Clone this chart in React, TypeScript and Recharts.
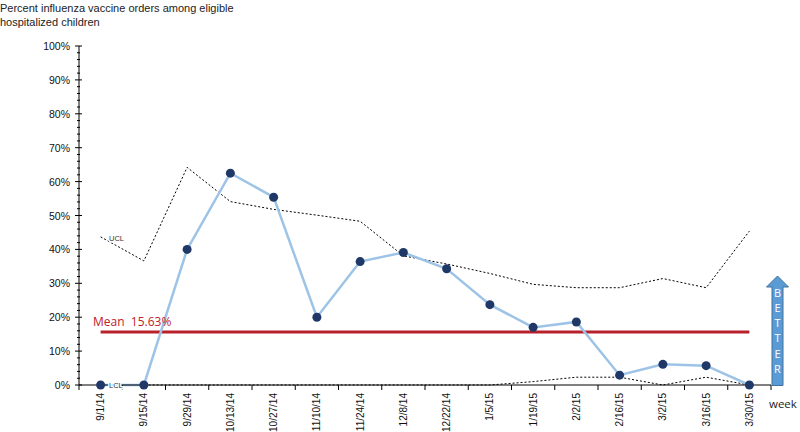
import { Line, LineChart, ReferenceLine, XAxis, YAxis } from "recharts";

const WEEKS = [
  "9/1/14", "9/15/14", "9/29/14", "10/13/14", "10/27/14", "11/10/14", "11/24/14", "12/8/14",
  "12/22/14", "1/5/15", "1/19/15", "2/2/15", "2/16/15", "3/2/15", "3/16/15", "3/30/15",
];
const RATE = [0, 0, 40, 62.5, 55.4, 20, 36.4, 39.1, 34.3, 23.7, 17.0, 18.6, 2.9, 6.1, 5.7, 0];
const UCL = [43.7, 36.6, 64.2, 54.1, 51.8, 50.1, 48.3, 38.1, 35.7, 32.9, 29.7, 28.7, 28.7, 31.4, 28.7, 45.4];
const LCL = [0, 0, 0, 0, 0, 0, 0, 0, 0, 0, 1.0, 2.3, 2.3, 0, 2.3, 0];
const MEAN = 15.63;
const Y_TICKS = [
  0, 2, 4, 6, 8, 10, 12, 14, 16, 18, 20, 22, 24, 26, 28, 30, 32, 34, 36, 38, 40, 42, 44, 46, 48, 50,
  52, 54, 56, 58, 60, 62, 64, 66, 68, 70, 72, 74, 76, 78, 80, 82, 84, 86, 88, 90, 92, 94, 96, 98, 100,
];
const BETTER = ["B", "E", "T", "T", "E", "R"];

const data = WEEKS.map((week, i) => ({ week, rate: RATE[i], ucl: UCL[i], lcl: LCL[i] }));

const AXIS_X = 79;
const AXIS_Y = 385;
const HALF_BAND = 21.625;
const ARIAL = "'Liberation Sans', Arial, sans-serif";

function YTick(props: any) {
  const { y, payload } = props;
  const v = payload.value;
  const major = v % 10 === 0;
  return (
    <g>
      <line x1={major ? 75 : 77} x2={major ? 82 : 80} y1={y} y2={y} stroke="#000" strokeWidth={1} />
      {major && (
        <text x={70} y={y} textAnchor="end" dominantBaseline="central" fontSize={10.5} fontFamily={ARIAL} fill="#111">
          {v}%
        </text>
      )}
    </g>
  );
}

function XTick(props: any) {
  const { x, payload, index } = props;
  return (
    <g>
      {index === 0 && (
        <line x1={x - HALF_BAND} x2={x - HALF_BAND} y1={AXIS_Y} y2={AXIS_Y + 5} stroke="#000" />
      )}
      <line x1={x + HALF_BAND} x2={x + HALF_BAND} y1={AXIS_Y} y2={AXIS_Y + 5} stroke="#000" />
      <text
        x={x}
        y={AXIS_Y + 8}
        transform={`rotate(-90 ${x} ${AXIS_Y + 8})`}
        textAnchor="end"
        dominantBaseline="central"
        fontSize={10}
        fontFamily={ARIAL}
        fill="#111"
      >
        {payload.value}
      </text>
    </g>
  );
}

export default function App() {
  return (
    <div style={{ position: "absolute", left: 0, top: 0, width: 800, height: 432, background: "#fff" }}>
      <LineChart width={800} height={432} data={data} margin={{ top: 46, right: 29, bottom: 0, left: 0 }}>
        <XAxis
          dataKey="week"
          interval={0}
          height={47}
          tickLine={false}
          axisLine={{ stroke: "#000" }}
          tick={<XTick />}
          padding={{ left: HALF_BAND, right: HALF_BAND }}
        />
        <YAxis
          width={AXIS_X}
          domain={[0, 100]}
          ticks={Y_TICKS}
          interval={0}
          tickLine={false}
          axisLine={{ stroke: "#000" }}
          tick={<YTick />}
        />
        <ReferenceLine
          segment={[
            { x: WEEKS[0], y: MEAN },
            { x: WEEKS[WEEKS.length - 1], y: MEAN },
          ]}
          stroke="#B8202A"
          strokeWidth={3}
        />
        <Line dataKey="ucl" stroke="#000" strokeWidth={1} strokeDasharray="2 2" dot={false} isAnimationActive={false} />
        <Line dataKey="lcl" stroke="#000" strokeWidth={1} strokeDasharray="2 2" dot={false} isAnimationActive={false} />
        <Line
          dataKey="rate"
          stroke="#9DC3E6"
          strokeWidth={2.5}
          dot={{ r: 4.5, fill: "#1F3868", stroke: "#1F3868", strokeWidth: 0 }}
          isAnimationActive={false}
        />
      </LineChart>
      <svg width={800} height={432} style={{ position: "absolute", left: 0, top: 0, pointerEvents: "none" }}>
        <text x={0} y={12} fontSize={11} fontFamily={ARIAL} fill="#222">
          Percent influenza vaccine orders among eligible
        </text>
        <text x={0} y={26} fontSize={11} fontFamily={ARIAL} fill="#222">
          hospitalized children
        </text>
        <text x={93} y={326} fontSize={12} fontFamily="'Open Sans', sans-serif" fill="#C0202A" style={{ whiteSpace: "pre" }}>
          Mean  15.63%
        </text>
        <text x={109} y={241} fontSize={7.5} fontFamily={ARIAL} fill="#333" stroke="#fff" strokeWidth={3} paintOrder="stroke">
          UCL
        </text>
        <text x={109} y={388} fontSize={7.5} fontFamily={ARIAL} fill="#333" stroke="#fff" strokeWidth={3} paintOrder="stroke">
          LCL
        </text>
        <text x={769} y={408} fontSize={11.5} fontFamily="'Open Sans', sans-serif" fill="#222">
          week
        </text>
        <path
          d="M772 385.5 L772 287 L766.5 287 L777.5 276 L788.5 287 L783 287 L783 385.5 Z"
          fill="#5B9BD5"
          stroke="#41719C"
          strokeWidth={1}
        />
        {BETTER.map((ch, i) => (
          <text
            key={i}
            x={777.5}
            y={292 + i * 15.3}
            textAnchor="middle"
            dominantBaseline="central"
            fontSize={11}
            fontFamily="'Open Sans', sans-serif"
            fill="#fff"
          >
            {ch}
          </text>
        ))}
      </svg>
    </div>
  );
}
